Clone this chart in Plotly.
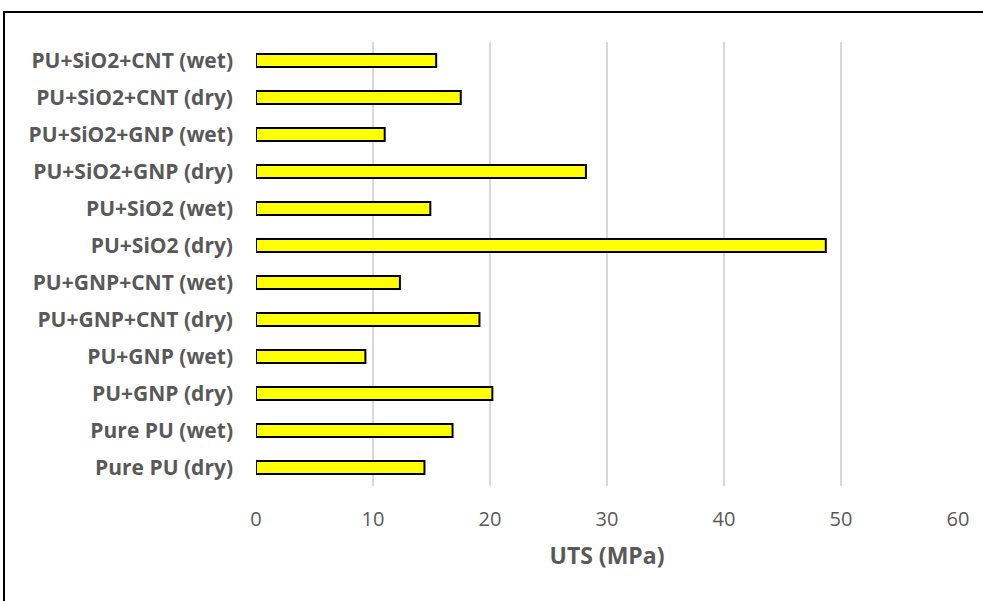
import plotly.graph_objects as go

# Sample labels, bottom to top as drawn on the category axis
samples = [
    "Pure PU (dry)", "Pure PU (wet)",
    "PU+GNP (dry)", "PU+GNP (wet)",
    "PU+GNP+CNT (dry)", "PU+GNP+CNT (wet)",
    "PU+SiO2 (dry)", "PU+SiO2 (wet)",
    "PU+SiO2+GNP (dry)", "PU+SiO2+GNP (wet)",
    "PU+SiO2+CNT (dry)", "PU+SiO2+CNT (wet)",
]
# Ultimate tensile strength, MPa
uts = [14.4, 16.8, 20.2, 9.35, 19.1, 12.3, 48.7, 14.9, 28.2, 11.0, 17.5, 15.4]

x_ticks = [0, 10, 20, 30, 40, 50, 60]

W, H = 983, 601
L, R, T, B = 256, 25, 42, 115
pw, ph = W - L - R, H - T - B

fig = go.Figure(
    go.Bar(
        x=uts,
        y=samples,
        orientation="h",
        marker=dict(color="#FFFF00", line=dict(color="#000000", width=2)),
        hoverinfo="x+y",
    )
)

font_family = "'Open Sans', sans-serif"

fig.update_layout(
    width=W,
    height=H,
    margin=dict(l=L, r=R, t=T, b=B),
    paper_bgcolor="white",
    plot_bgcolor="white",
    bargap=0.65,
    showlegend=False,
    font=dict(family=font_family, color="#595959"),
    xaxis=dict(
        range=[0, 60],
        tickvals=x_ticks,
        showgrid=True,
        gridcolor="#D9D9D9",
        gridwidth=2,
        zeroline=False,
        showline=False,
        ticks="",
        ticklabelstandoff=19,
        tickfont=dict(size=20, color="#595959"),
        title=dict(
            text="<b>UTS (MPa)</b>",
            font=dict(size=23, color="#595959"),
            standoff=16,
        ),
    ),
    yaxis=dict(
        categoryorder="array",
        categoryarray=samples,
        showgrid=False,
        zeroline=False,
        showline=False,
        ticks="",
        ticklabelstandoff=22,
        tickfont=dict(size=21, color="#595959", weight="bold"),
    ),
    shapes=[
        dict(
            type="rect",
            xref="paper",
            yref="paper",
            x0=(4 - L) / pw,
            x1=1.2,
            y0=-0.5,
            y1=(H - B - 12) / ph,
            line=dict(color="#000000", width=2),
            fillcolor="rgba(0,0,0,0)",
            layer="below",
        )
    ],
)

fig.write_html("out.html")
